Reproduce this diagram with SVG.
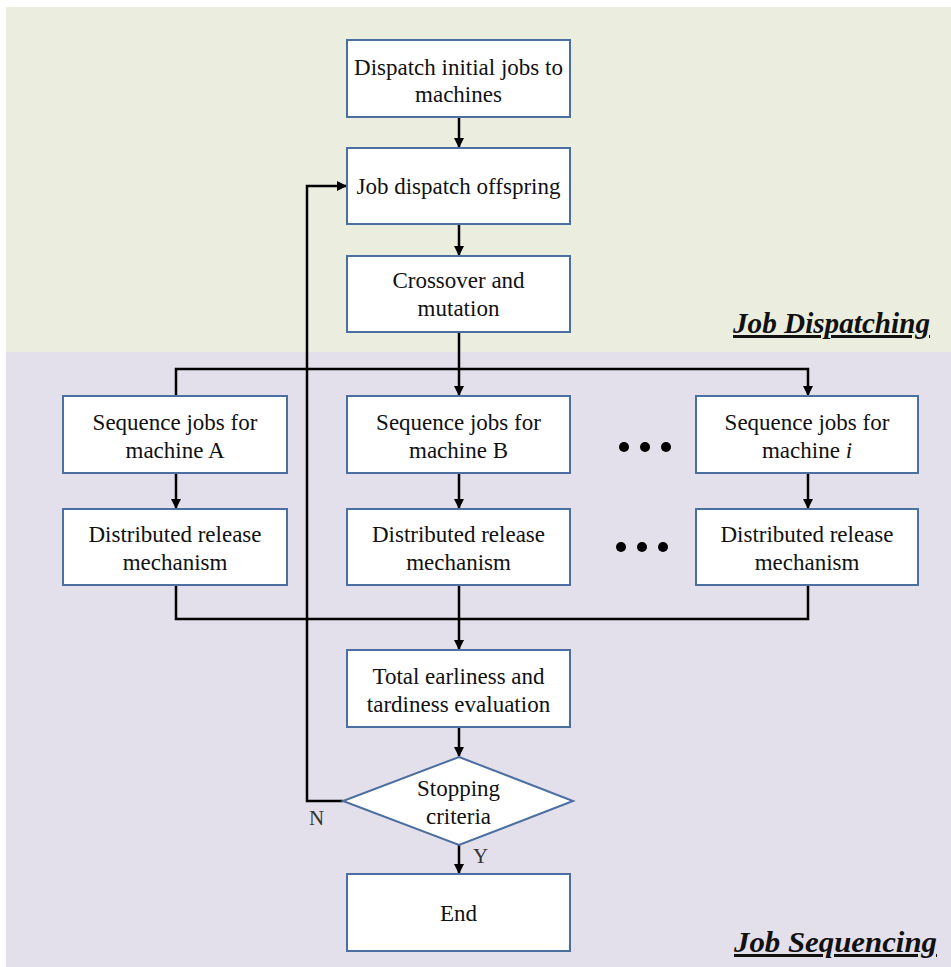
<svg xmlns="http://www.w3.org/2000/svg" width="951" height="967" viewBox="0 0 951 967">
<defs>
<marker id="arr" markerWidth="10" markerHeight="10" refX="9" refY="5" orient="auto" markerUnits="userSpaceOnUse">
<path d="M0,0 L10,5 L0,10 Z" fill="#000"/>
</marker>
<style>
.box{fill:#fff;stroke:#4a6fa0;stroke-width:2}
.t{font-family:"Liberation Serif","Times New Roman",serif;font-size:23px;fill:#111;text-anchor:middle}
.c{fill:none;stroke:#000;stroke-width:2.5}
.a{marker-end:url(#arr)}
.title{font-family:"Liberation Serif","Times New Roman",serif;font-size:30px;font-weight:bold;font-style:italic;fill:#111;text-decoration:underline}
.lbl{font-family:"Liberation Serif","Times New Roman",serif;font-size:21px;fill:#333}
</style>
</defs>
<rect x="0" y="0" width="951" height="967" fill="#fff"/>
<rect x="6" y="7" width="945" height="345" fill="#ebeedf"/>
<rect x="6" y="352" width="945" height="615" fill="#e3dfeb"/>
<text class="title" x="733" y="333" textLength="197" lengthAdjust="spacingAndGlyphs">Job Dispatching</text>
<text class="title" x="734" y="952" textLength="203" lengthAdjust="spacingAndGlyphs">Job Sequencing</text>

<g id="connectors">
<path class="c a" d="M459,117 V147"/>
<path class="c a" d="M459,224 V255"/>
<path class="c" d="M459,332 V369"/>
<path class="c a" d="M176,395 V369 H808 V395"/>
<path class="c a" d="M459,369 V395"/>
<path class="c a" d="M176,473 V508"/>
<path class="c a" d="M459,473 V508"/>
<path class="c a" d="M808,473 V508"/>
<path class="c" d="M176,585 V619 H808 V585"/>
<path class="c a" d="M459,585 V649"/>
<path class="c a" d="M459,727 V756"/>
<path class="c a" d="M459,845 V873"/>
<path class="c a" d="M343,801 H307 V186 H346"/>
</g>

<g id="n1"><rect class="box" x="347" y="40" width="223" height="77"/><text class="t" x="458.5" y="75">Dispatch initial jobs to</text><text class="t" x="458.5" y="102">machines</text></g>
<g id="n2"><rect class="box" x="347" y="148" width="223" height="76"/><text class="t" x="458.5" y="194">Job dispatch offspring</text></g>
<g id="n3"><rect class="box" x="347" y="256" width="223" height="76"/><text class="t" x="458.5" y="288">Crossover and</text><text class="t" x="458.5" y="316">mutation</text></g>
<g id="n4"><rect class="box" x="63" y="396" width="224" height="77"/><text class="t" x="175" y="430">Sequence jobs for</text><text class="t" x="175" y="458">machine A</text></g>
<g id="n5"><rect class="box" x="347" y="396" width="223" height="77"/><text class="t" x="458.5" y="430">Sequence jobs for</text><text class="t" x="458.5" y="458">machine B</text></g>
<g id="n6"><rect class="box" x="696" y="396" width="222" height="77"/><text class="t" x="807" y="430">Sequence jobs for</text><text class="t" x="807" y="458">machine <tspan font-style="italic">i</tspan></text></g>
<g id="n7"><rect class="box" x="63" y="509" width="224" height="76"/><text class="t" x="175" y="542">Distributed release</text><text class="t" x="175" y="570">mechanism</text></g>
<g id="n8"><rect class="box" x="347" y="509" width="223" height="76"/><text class="t" x="458.5" y="542">Distributed release</text><text class="t" x="458.5" y="570">mechanism</text></g>
<g id="n9"><rect class="box" x="696" y="509" width="222" height="76"/><text class="t" x="807" y="542">Distributed release</text><text class="t" x="807" y="570">mechanism</text></g>
<g id="dots1"><circle cx="624" cy="447" r="5"/><circle cx="645" cy="447" r="5"/><circle cx="666" cy="447" r="5"/></g>
<g id="dots2"><circle cx="621" cy="547" r="5"/><circle cx="642" cy="547" r="5"/><circle cx="663" cy="547" r="5"/></g>
<g id="n10"><rect class="box" x="347" y="650" width="223" height="77"/><text class="t" x="458.5" y="684">Total earliness and</text><text class="t" x="458.5" y="712">tardiness evaluation</text></g>
<g id="n11"><polygon class="box" points="459,757 573,801 459,845 343,801"/><text class="t" x="458.5" y="796">Stopping</text><text class="t" x="458.5" y="824">criteria</text></g>
<g id="n12"><rect class="box" x="347" y="874" width="223" height="77"/><text class="t" x="458.5" y="921">End</text></g>
<text class="lbl" x="309" y="825">N</text>
<text class="lbl" x="473" y="863">Y</text>
</svg>
